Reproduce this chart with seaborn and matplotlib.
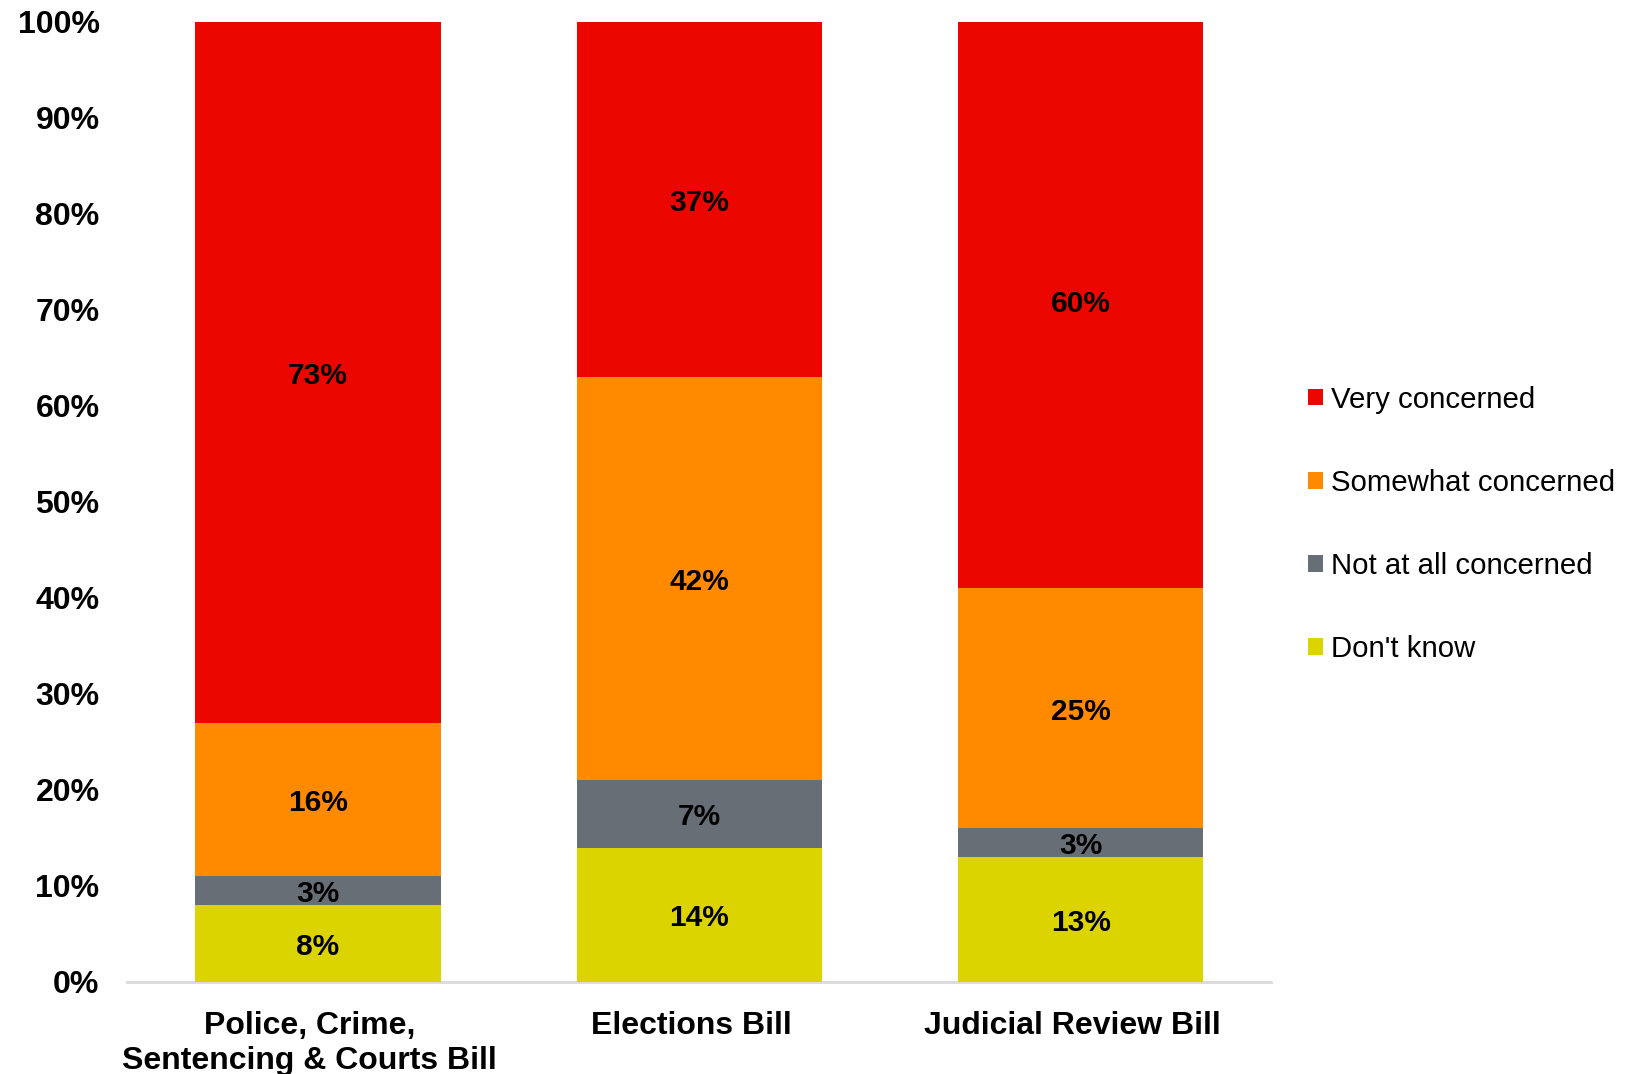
import numpy as np
import pandas as pd
import seaborn as sns
import matplotlib
matplotlib.use("Agg")
import matplotlib.pyplot as plt
import matplotlib.transforms as mtransforms
from matplotlib.patches import Patch

categories = ["Police, Crime,\nSentencing & Courts Bill", "Elections Bill", "Judicial Review Bill"]
dont_know = [8, 14, 13]
not_at_all = [3, 7, 3]
somewhat = [16, 42, 25]
very = [73, 37, 60]

series_names = ["Don't know", "Not at all concerned", "Somewhat concerned", "Very concerned"]
series_values = [dont_know, not_at_all, somewhat, very]
series_colors = ["#DCD400", "#686E75", "#FF8A00", "#EB0600"]

sns.set_theme(style="white")
plt.rcParams["font.family"] = ["Liberation Sans", "DejaVu Sans"]
plt.rcParams["text.color"] = "black"
plt.rcParams["xtick.color"] = "black"
plt.rcParams["ytick.color"] = "black"

fig = plt.figure(figsize=(16.32, 10.74), dpi=100)
ax = fig.add_axes([0.078, 0.0857, 0.701, 0.894])

vals = np.array(series_values, dtype=float)
tops = np.cumsum(vals, axis=0)
bottoms = tops - vals

# Stack by layering: draw the tallest cumulative bars first
for i in range(len(series_names) - 1, -1, -1):
    df = pd.DataFrame({"cat": categories, "top": tops[i]})
    sns.barplot(data=df, x="cat", y="top", color=series_colors[i], saturation=1,
                width=0.644, ax=ax, linewidth=0, zorder=2)

# Segment value labels, nudged slightly below the segment centre
label_tr = mtransforms.offset_copy(ax.transData, fig=fig, x=0, y=-3.5, units="dots")
for i in range(len(series_names)):
    for j in range(len(categories)):
        mid = bottoms[i, j] + vals[i, j] / 2
        ax.text(j, mid, f"{int(vals[i, j])}%", ha="center", va="center",
                fontsize=21.5, fontweight="bold", color="black", zorder=5,
                transform=label_tr)

ax.set_xlim(-0.5, 2.5)
ax.set_ylim(0, 100)
ax.set_yticks(np.arange(0, 101, 10))
ax.set_yticklabels([f"{v}%" for v in range(0, 101, 10)], fontsize=23, fontweight="bold")
ax.set_xticks(range(len(categories)))
ax.set_xticklabels(categories, fontsize=23, fontweight="bold", linespacing=1.2)
ax.tick_params(axis="y", length=0, pad=20)
ax.tick_params(axis="x", length=0, pad=21)
ax.set_xlabel("")
ax.set_ylabel("")

# category labels sit slightly left of their bars
shift = mtransforms.ScaledTranslation(-8.3 / 100, 0, fig.dpi_scale_trans)
for lab in ax.get_xticklabels():
    lab.set_transform(lab.get_transform() + shift)

for s in ["left", "right", "top"]:
    ax.spines[s].set_visible(False)
ax.spines["bottom"].set_color("#D9D9D9")
ax.spines["bottom"].set_linewidth(2)
ax.spines["bottom"].set_zorder(1)

handles = [Patch(facecolor=series_colors[i], edgecolor="none") for i in range(3, -1, -1)]
labels = [series_names[i] for i in range(3, -1, -1)]
fig.legend(handles, labels, loc="center left", bbox_to_anchor=(0.7855, 0.512),
           frameon=False, fontsize=21.2, handlelength=0.5, handleheight=0.5,
           handletextpad=0.25, labelspacing=1.87)

fig.savefig("out.png", dpi=100, facecolor="white")
